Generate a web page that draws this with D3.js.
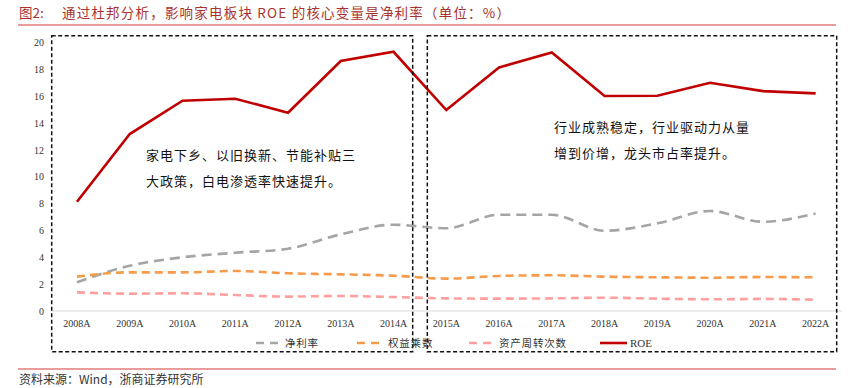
<!DOCTYPE html>
<html>
<head>
<meta charset="utf-8">
<script src="https://cdn.jsdelivr.net/npm/d3@7"></script>
<style>
  body { margin: 0; background: #fff; }
  svg { display: block; }
  .cjk { font-family: "Noto Sans CJK SC", sans-serif; }
  .num { font-family: "Liberation Serif", "Times New Roman", serif; }
</style>
</head>
<body>
<svg id="chart" width="851" height="388"></svg>
<script>
// 年份
const years = ['2008A','2009A','2010A','2011A','2012A','2013A','2014A','2015A',
               '2016A','2017A','2018A','2019A','2020A','2021A','2022A']
// 各指标
const netMargin  = [2.14, 3.37, 4.0, 4.34, 4.64, 5.71, 6.43, 6.16, 7.17, 7.17, 5.98, 6.53, 7.45, 6.65, 7.27]
const equityMult = [2.56, 2.88, 2.88, 2.98, 2.81, 2.73, 2.63, 2.41, 2.61, 2.66, 2.56, 2.51, 2.48, 2.53, 2.51]
const assetTurn  = [1.39, 1.29, 1.32, 1.19, 1.07, 1.12, 1.04, 0.94, 0.92, 0.94, 0.99, 0.92, 0.87, 0.90, 0.84]
const roe        = [8.14, 13.18, 15.66, 15.81, 14.77, 18.62, 19.31, 14.97, 18.14, 19.26, 16.01, 16.03, 17.0, 16.38, 16.21]
const yTicks = [0, 2, 4, 6, 8, 10, 12, 14, 16, 18, 20]

const series = [
  {name: '净利率', values: netMargin, color: '#a5a5a5', dash: '10,6', curve: d3.curveMonotoneX},
  {name: '权益乘数', values: equityMult, color: '#f79a4a', dash: '8,5', curve: d3.curveMonotoneX},
  {name: '资产周转次数', values: assetTurn, color: '#ff9f9f', dash: '8,5', curve: d3.curveMonotoneX},
  {name: 'ROE', values: roe, color: '#c00000', dash: null, curve: d3.curveLinear}
]

const svg = d3.select('#chart')

// title
const title = svg.append('text')
    .attr('class', 'cjk')
    .attr('x', 19).attr('y', 18)
    .attr('fill', '#a8322d')
    .style('font-size', '13.5px')
title.append('tspan').text('图2:')
title.append('tspan').attr('x', 62)
    .style('letter-spacing', '1.2px')
    .text('通过杜邦分析，影响家电板块 ROE 的核心变量是净利率（单位：%）')

svg.append('line').attr('x1', 18).attr('x2', 836).attr('y1', 25).attr('y2', 25)
    .attr('stroke', '#e07b7b').attr('stroke-width', 1.5)
svg.append('line').attr('x1', 18).attr('x2', 836).attr('y1', 369).attr('y2', 369)
    .attr('stroke', '#e07b7b').attr('stroke-width', 1.5)

svg.append('text')
    .attr('class', 'cjk')
    .attr('x', 19).attr('y', 384)
    .attr('fill', '#333')
    .style('font-size', '12px')
    .text('资料来源：Wind，浙商证券研究所')

// scales
const x = d3.scaleBand().domain(years).range([50.6, 842]).padding(0)
const y = d3.scaleLinear().domain([0, 20]).range([311, 42.5])
const cx = d => x(d) + x.bandwidth() / 2

// baseline
svg.append('line')
    .attr('x1', 50.6).attr('x2', 842)
    .attr('y1', y(0)).attr('y2', y(0))
    .attr('stroke', '#d9d9d9').attr('stroke-width', 1)

// y axis labels
const yAxis = svg.append('g')
    .attr('transform', 'translate(47,0)')
    .call(d3.axisLeft(y).tickValues(yTicks).tickSize(0).tickPadding(3))
yAxis.select('.domain').remove()
yAxis.selectAll('text')
    .attr('class', 'num')
    .attr('fill', '#333')
    .style('font-size', '10px')

// x axis labels
const xAxis = svg.append('g')
    .attr('transform', `translate(0,${y(0)})`)
    .call(d3.axisBottom(x).tickSize(0).tickPadding(9))
xAxis.select('.domain').remove()
xAxis.selectAll('text')
    .attr('class', 'num')
    .attr('fill', '#333')
    .style('font-size', '10px')

// lines
series.forEach(s => {
  const line = d3.line()
      .x((d, i) => cx(years[i]))
      .y(d => y(d))
      .curve(s.curve)
  svg.append('path')
      .datum(s.values)
      .attr('d', line)
      .attr('fill', 'none')
      .attr('stroke', s.color)
      .attr('stroke-width', 2.6)
      .attr('stroke-dasharray', s.dash)
})

// dashed boxes
const boxes = [
  {x0: 51.7, x1: 412.7},
  {x0: 427.3, x1: 836.7}
]
svg.selectAll('.box')
    .data(boxes)
    .enter()
    .append('rect')
    .attr('class', 'box')
    .attr('x', d => d.x0)
    .attr('y', 35.7)
    .attr('width', d => d.x1 - d.x0)
    .attr('height', 351.7 - 35.7)
    .attr('fill', 'none')
    .attr('stroke', '#111')
    .attr('stroke-width', 1.5)
    .attr('stroke-dasharray', '4,2.5')

// annotations
const notes = [
  {x: 146, y: 160, lines: ['家电下乡、以旧换新、节能补贴三', '大政策，白电渗透率快速提升。']},
  {x: 554, y: 132, lines: ['行业成熟稳定，行业驱动力从量', '增到价增，龙头市占率提升。']}
]
notes.forEach(n => {
  svg.append('g')
      .selectAll('text')
      .data(n.lines)
      .enter()
      .append('text')
      .attr('class', 'cjk')
      .attr('x', n.x)
      .attr('y', (d, i) => n.y + i * 25.5)
      .attr('fill', '#111')
      .style('font-size', '13px')
      .style('letter-spacing', '1px')
      .text(d => d)
})

// legend
const legendItems = [
  {x: 256, w: 24, tx: 285},
  {x: 357, w: 26, tx: 388},
  {x: 469, w: 28, tx: 499},
  {x: 600, w: 27, tx: 630}
]
const lg = svg.append('g')
series.forEach((s, i) => {
  const it = legendItems[i]
  lg.append('line')
      .attr('x1', it.x).attr('x2', it.x + it.w)
      .attr('y1', 343).attr('y2', 343)
      .attr('stroke', s.color)
      .attr('stroke-width', 2.6)
      .attr('stroke-dasharray', s.dash ? '8,6' : null)
  lg.append('text')
      .attr('class', s.name === 'ROE' ? 'num' : 'cjk')
      .attr('x', it.tx).attr('y', 347)
      .attr('fill', '#333')
      .style('font-size', s.name === 'ROE' ? '11px' : '10.5px')
      .style('letter-spacing', s.name === 'ROE' ? null : '0.8px')
      .text(s.name)
})
</script>
</body>
</html>
